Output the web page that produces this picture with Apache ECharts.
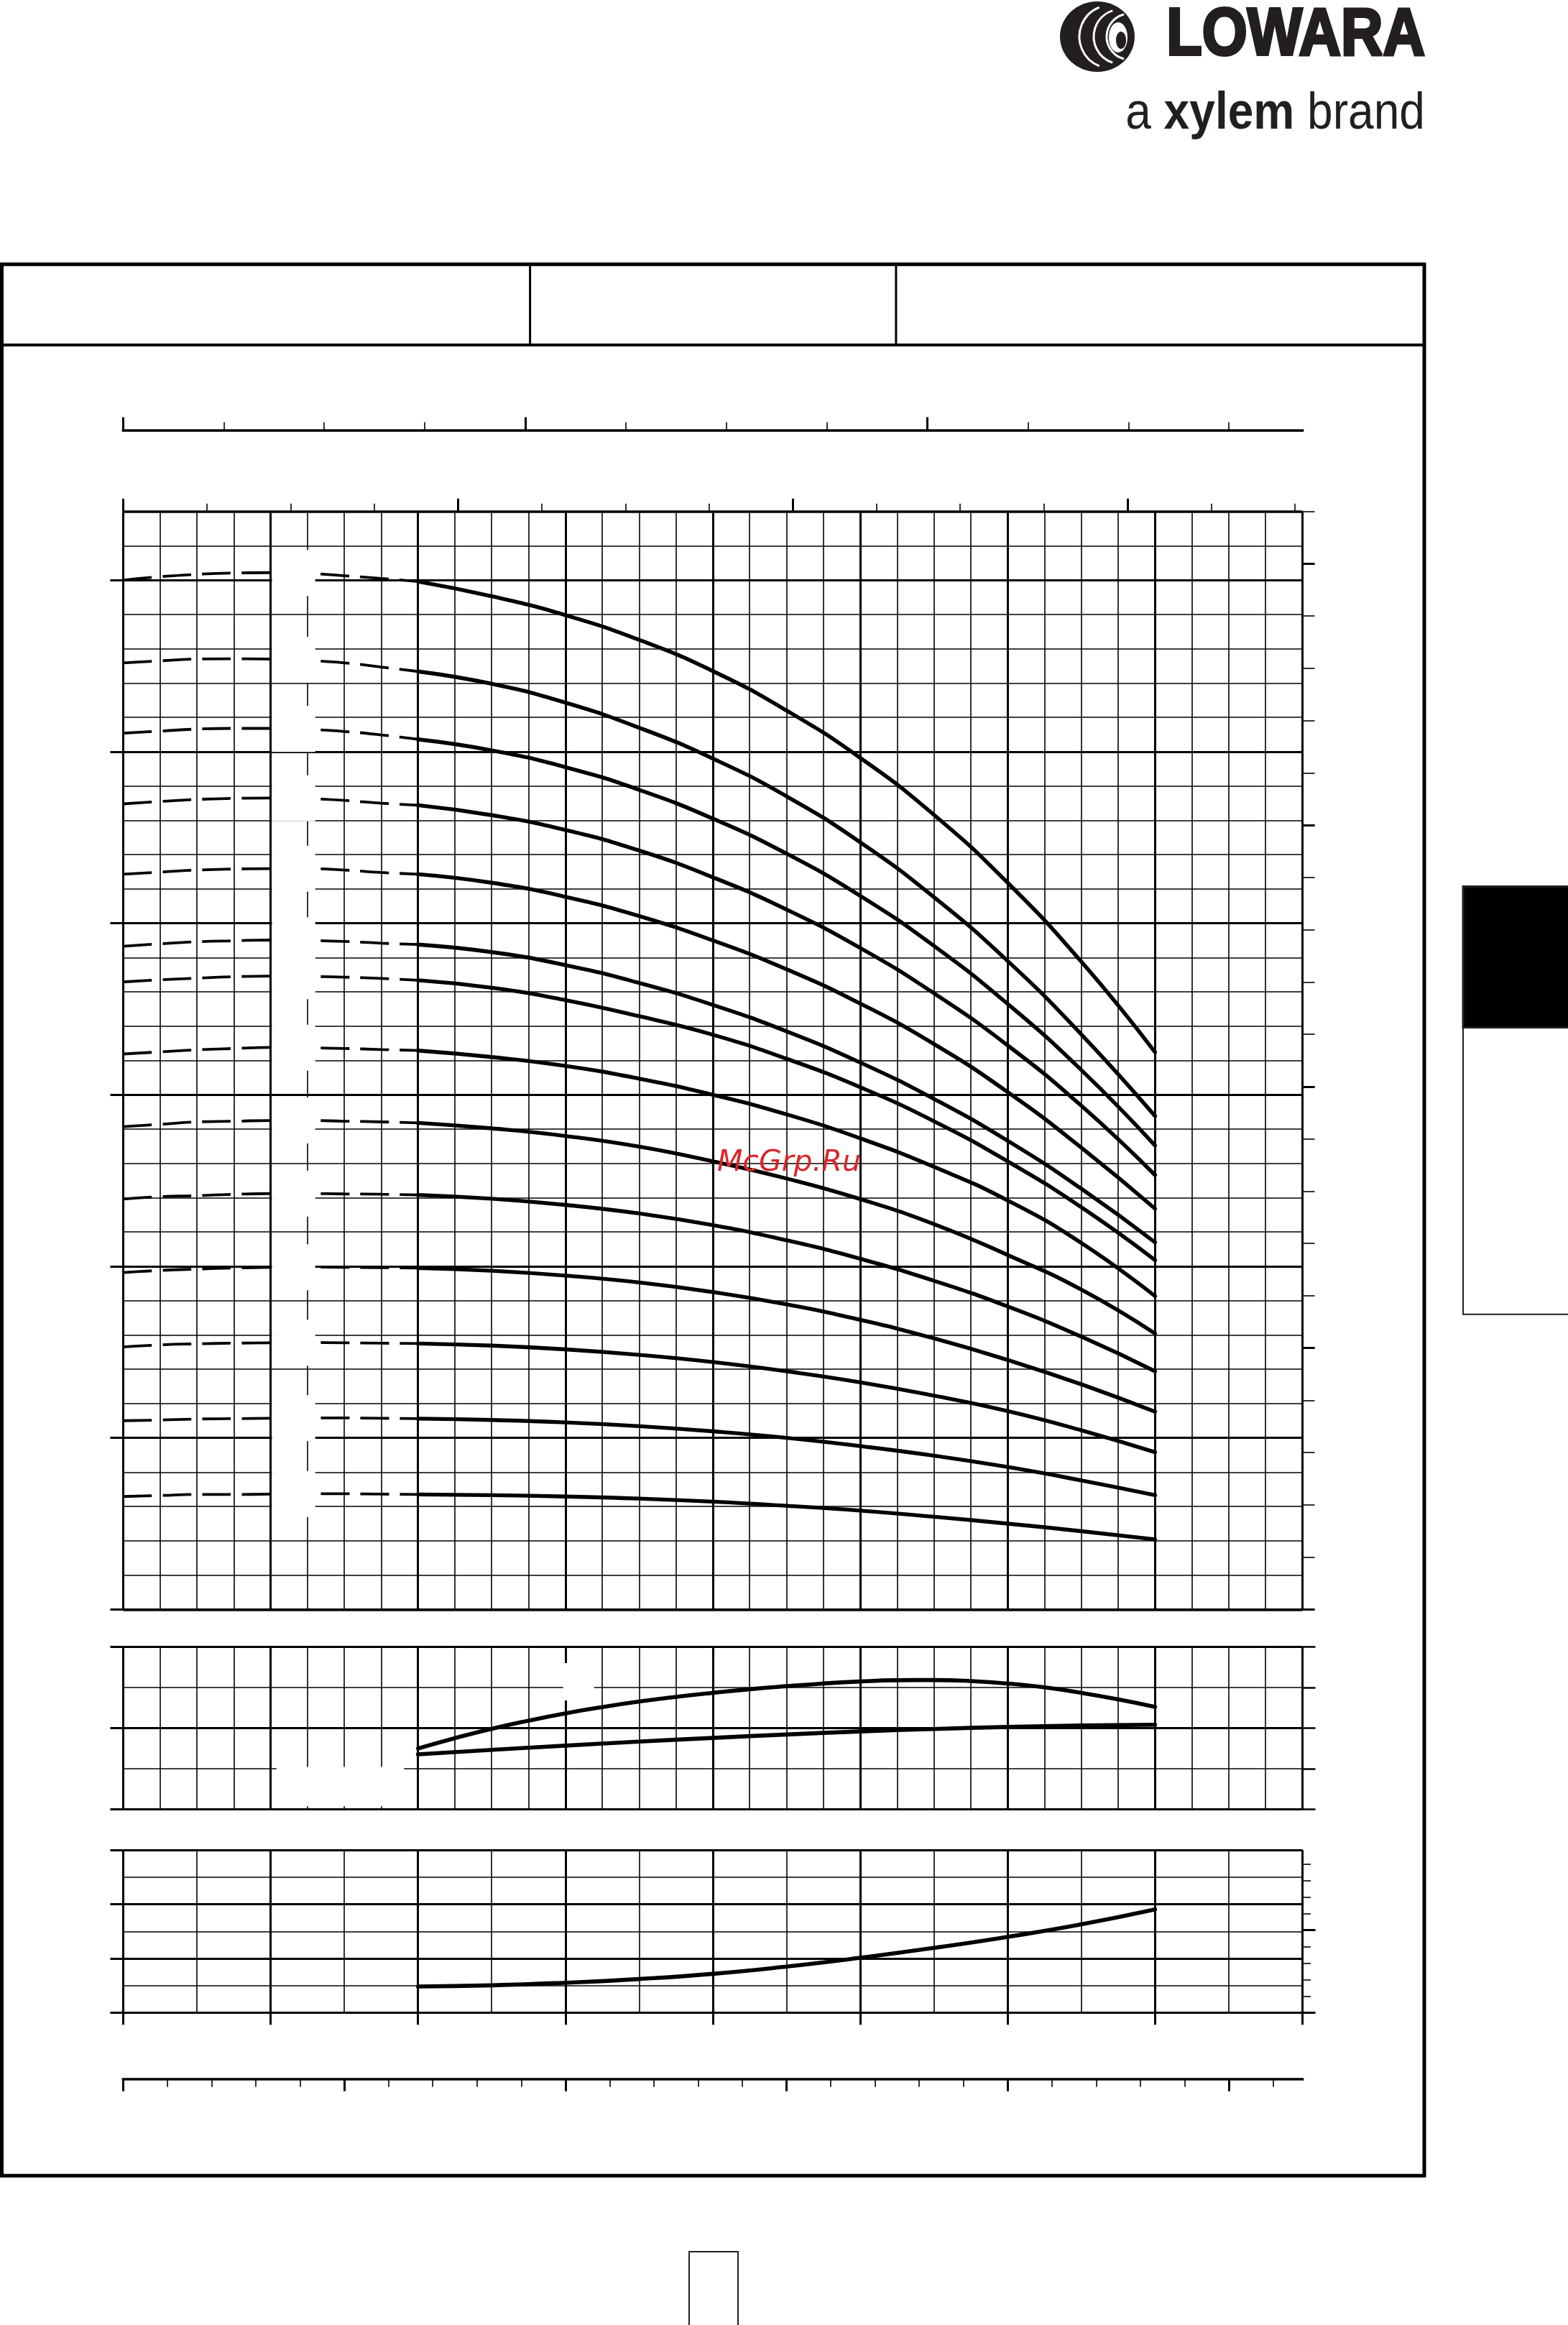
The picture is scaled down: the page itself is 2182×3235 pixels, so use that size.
<!DOCTYPE html>
<html>
<head>
<meta charset="utf-8">
<title>Pump performance curves</title>
<script src="https://cdn.jsdelivr.net/npm/echarts@6.0.0/dist/echarts.min.js"></script>
<style>
html,body{margin:0;padding:0;background:#fff;}
#chart{width:2182px;height:3235px;}
</style>
</head>
<body>
<div id="chart"></div>
<script>
// ================= DATA =================
// Flow in m3/h (main scale 0..80)
const dashedFlow = [0, 2.5, 5, 7.5, 10, 12.5, 15, 17.5, 20];
const solidFlow  = [20, 25, 30, 35, 40, 45, 50, 55, 60, 65, 70];

// Head (m) of each curve, dashed low-flow part
const headDashed = [
  [300.0, 301.0, 301.7, 302.1, 302.2, 302.0, 301.3, 300.5, 299.6],
  [275.9, 276.5, 277.0, 277.1, 277.0, 276.6, 275.9, 274.7, 273.4],
  [255.4, 256.0, 256.6, 256.8, 256.8, 256.5, 255.9, 254.9, 253.6],
  [234.8, 235.5, 236.1, 236.4, 236.5, 236.3, 235.8, 235.0, 234.4],
  [214.3, 214.9, 215.5, 215.8, 215.9, 215.9, 215.5, 214.8, 214.3],
  [193.3, 194.0, 194.6, 194.9, 195.1, 195.0, 194.7, 194.2, 193.8],
  [182.9, 183.5, 184.0, 184.4, 184.6, 184.5, 184.3, 183.9, 183.4],
  [161.9, 162.5, 163.1, 163.5, 163.8, 163.7, 163.5, 163.2, 162.9],
  [140.7, 141.4, 142.1, 142.3, 142.5, 142.5, 142.3, 142.1, 141.8],
  [119.6, 120.3, 120.6, 121.0, 121.2, 121.2, 121.1, 121.0, 120.8],
  [98.2, 98.8, 99.2, 99.5, 99.7, 99.8, 99.7, 99.6, 99.5],
  [76.5, 77.1, 77.4, 77.6, 77.7, 77.8, 77.7, 77.6, 77.5],
  [55.0, 55.2, 55.5, 55.6, 55.7, 55.8, 55.8, 55.7, 55.6],
  [32.9, 33.2, 33.5, 33.5, 33.6, 33.7, 33.7, 33.6, 33.5]
];
// Head (m) of each curve, solid operating part
const headSolid = [
  [299.6, 295.3, 289.8, 282.6, 273.5, 262.0, 248.2, 231.6, 211.8, 188.8, 162.4],
  [273.4, 269.8, 264.3, 257.0, 248.0, 237.0, 223.6, 207.6, 189.0, 167.6, 143.8],
  [253.6, 250.4, 245.5, 238.9, 230.5, 220.3, 208.0, 193.4, 176.5, 157.2, 135.2],
  [234.4, 231.5, 227.2, 221.2, 213.4, 204.0, 192.8, 179.6, 164.4, 146.8, 126.6],
  [214.3, 211.8, 207.7, 202.1, 195.0, 186.6, 176.6, 164.8, 150.8, 134.6, 116.8],
  [193.8, 191.6, 187.8, 182.6, 176.2, 168.5, 159.4, 148.8, 136.6, 122.6, 107.0],
  [183.4, 181.2, 177.6, 172.9, 167.5, 160.5, 152.2, 142.3, 130.6, 117.2, 101.8],
  [162.9, 161.0, 158.4, 154.7, 150.0, 144.3, 137.3, 129.0, 119.2, 106.8, 91.3],
  [141.8, 140.2, 138.0, 134.9, 130.6, 125.6, 119.6, 112.3, 103.3, 93.2, 80.4],
  [120.8, 119.7, 117.9, 115.4, 112.0, 107.6, 102.2, 95.8, 88.3, 79.5, 69.4],
  [99.5, 98.7, 97.3, 95.3, 92.5, 88.9, 84.4, 79.0, 72.7, 65.6, 57.6],
  [77.5, 76.9, 75.8, 74.2, 72.1, 69.4, 66.2, 62.3, 57.8, 52.2, 45.8],
  [55.6, 55.2, 54.5, 53.4, 51.9, 50.0, 47.6, 44.8, 41.5, 37.6, 33.3],
  [33.5, 33.3, 32.9, 32.3, 31.4, 30.2, 28.8, 27.0, 25.0, 22.8, 20.4]
];

// Efficiency panel (0..80 scale)
const effFlow    = [20, 22.5, 25, 27.5, 30, 32.5, 35, 37.5, 40, 42.5, 45, 47.5, 50, 52.5, 55, 57.5, 60, 62.5, 65, 67.5, 70];
const efficiency = [29.9, 35.0, 39.6, 43.6, 47.2, 50.3, 53.0, 55.3, 57.3, 59.1, 60.6, 61.9, 62.9, 63.5, 63.6, 63.1, 61.9, 60.0, 57.3, 54.1, 50.4];
const powerFlow  = [20, 25, 30, 35, 40, 45, 50, 55, 60, 65, 70];
const power      = [27.0, 29.2, 31.3, 33.3, 35.1, 36.8, 38.3, 39.5, 40.5, 41.2, 41.6];

// NPSH panel (m, 0..15)
const npshFlow = [20, 25, 30, 35, 40, 45, 50, 55, 60, 65, 70];
const npsh     = [2.41, 2.52, 2.76, 3.10, 3.58, 4.25, 5.06, 5.97, 6.99, 8.15, 9.53];

// Scale ranges / secondary units
const Q_MAX = 80;              // m3/h
const H_MAX = 320;             // m
const FT_PER_M = 1 / 0.3048;
const USGPM_PER_M3H = 4.402868;
const IMPGPM_PER_M3H = 3.666154;
const LPM_PER_M3H = 16.666667;

// ================= LAYOUT =================
const LEFT = 171.4, W = 1641.1;
const MAIN_TOP = 711.8, MAIN_H = 1527.5;
const EFF_TOP = 2291.3, EFF_H = 226;
const NPSH_TOP = 2574.3, NPSH_H = 226;
const BLACK = '#000';
const THIN = 1.6, THICK = 3;

const grids = [], xAxes = [], yAxes = [];
function addGrid(top, height, width) {
  grids.push({left: LEFT, top: top, width: width == null ? W : width, height: height,
              containLabel: false, outerBoundsMode: 'none', show: false});
  return grids.length - 1;
}
function ax(gi, o) {
  return {
    gridIndex: gi, type: 'value', min: 0, max: o.max, interval: o.interval,
    position: o.position, offset: o.offset || 0, silent: true,
    axisLine: {show: !!o.line, onZero: false, lineStyle: {color: BLACK, width: o.line || 1, cap: 'square'}},
    axisTick: {show: !!o.tick, inside: false, length: o.tickLen || 5, lineStyle: {color: BLACK, width: o.tick || 1}},
    axisLabel: {show: false},
    splitLine: {show: !!o.split, lineStyle: {color: BLACK, width: o.split || 1}},
    minorTick: {show: false}, minorSplitLine: {show: false}, axisPointer: {show: false}
  };
}
function hid(gi, max) { return {gridIndex: gi, type: 'value', min: 0, max: max, show: false}; }

// --- main H chart ---
const pxPerM = MAIN_H / H_MAX;
const gMain = addGrid(MAIN_TOP, MAIN_H);
xAxes.push(ax(gMain, {max: Q_MAX, interval: 2.5, split: THIN}));
yAxes.push(ax(gMain, {max: H_MAX, interval: 10, split: THIN}));
const g1 = addGrid(MAIN_TOP, MAIN_H);
xAxes.push(ax(g1, {max: Q_MAX, interval: 10, split: THICK}));
yAxes.push(ax(g1, {max: H_MAX, interval: H_MAX, split: 3.5}));
const g2 = addGrid(MAIN_TOP + MAIN_H - 300 * pxPerM, 300 * pxPerM);
xAxes.push(hid(g2, Q_MAX));
yAxes.push(ax(g2, {max: 300, interval: 50, split: THICK, tick: THICK, tickLen: 18, position: 'left'}));
const ft1050 = 1050 / FT_PER_M * pxPerM;
const g3 = addGrid(MAIN_TOP + MAIN_H - ft1050, ft1050);
xAxes.push(hid(g3, Q_MAX));
yAxes.push(ax(g3, {max: 1050, interval: 50, tick: THIN, tickLen: 17, position: 'right'}));
const ft1000 = 1000 / FT_PER_M * pxPerM;
const g4 = addGrid(MAIN_TOP + MAIN_H - ft1000, ft1000);
xAxes.push(hid(g4, Q_MAX));
yAxes.push(ax(g4, {max: 1000, interval: 250, tick: THICK, tickLen: 17, position: 'right'}));
// top axis 2 (US gpm) at the chart top
const g5 = addGrid(MAIN_TOP, MAIN_H, 350 / (Q_MAX * USGPM_PER_M3H) * W);
xAxes.push(ax(g5, {max: 350, interval: 25, tick: THIN, tickLen: 11, position: 'top'}));
yAxes.push(hid(g5, 1));
const g6 = addGrid(MAIN_TOP, MAIN_H, 300 / (Q_MAX * USGPM_PER_M3H) * W);
xAxes.push(ax(g6, {max: 300, interval: 100, tick: THICK, tickLen: 18, position: 'top'}));
yAxes.push(hid(g6, 1));
// top axis 1 (Imp gpm)
const TOP1_OFF = 113.2;
const g7 = addGrid(MAIN_TOP, MAIN_H);
xAxes.push(ax(g7, {max: Q_MAX, interval: Q_MAX, line: 3.5, position: 'top', offset: TOP1_OFF}));
yAxes.push(hid(g7, 1));
const g8 = addGrid(MAIN_TOP, MAIN_H, 275 / (Q_MAX * IMPGPM_PER_M3H) * W);
xAxes.push(ax(g8, {max: 275, interval: 25, tick: THIN, tickLen: 11, position: 'top', offset: TOP1_OFF}));
yAxes.push(hid(g8, 1));
const g9 = addGrid(MAIN_TOP, MAIN_H, 200 / (Q_MAX * IMPGPM_PER_M3H) * W);
xAxes.push(ax(g9, {max: 200, interval: 100, tick: THICK, tickLen: 18, position: 'top', offset: TOP1_OFF}));
yAxes.push(hid(g9, 1));

// --- efficiency panel ---
const gEff = addGrid(EFF_TOP, EFF_H);
const effX = xAxes.length;
xAxes.push(ax(gEff, {max: Q_MAX, interval: 2.5, split: THIN}));
const effY = yAxes.length;
yAxes.push(ax(gEff, {max: 80, interval: 20, split: THIN}));
const g11 = addGrid(EFF_TOP, EFF_H);
xAxes.push(ax(g11, {max: Q_MAX, interval: 10, split: THICK}));
yAxes.push(ax(g11, {max: 80, interval: 40, split: THICK, tick: THICK, tickLen: 18, position: 'left'}));
const g12 = addGrid(EFF_TOP, EFF_H);
xAxes.push(hid(g12, Q_MAX));
yAxes.push(ax(g12, {max: 80, interval: 20, tick: 2.5, tickLen: 18, position: 'right'}));

// --- NPSH panel ---
const gN = addGrid(NPSH_TOP, NPSH_H);
const nX = xAxes.length;
xAxes.push(ax(gN, {max: Q_MAX, interval: 5, split: THIN}));
const nY = yAxes.length;
yAxes.push(ax(gN, {max: 15, interval: 2.5, split: THIN}));
const g14 = addGrid(NPSH_TOP, NPSH_H);
xAxes.push(ax(g14, {max: Q_MAX, interval: 10, split: THICK, tick: THICK, tickLen: 17, position: 'bottom'}));
yAxes.push(ax(g14, {max: 15, interval: 5, split: THICK, tick: THICK, tickLen: 18, position: 'left'}));
const nPx = NPSH_H / 15;
const g15 = addGrid(NPSH_TOP + NPSH_H - 45 / FT_PER_M * nPx, 45 / FT_PER_M * nPx);
xAxes.push(hid(g15, Q_MAX));
yAxes.push(ax(g15, {max: 45, interval: 5, tick: THIN, tickLen: 11.5, position: 'right'}));
const g16 = addGrid(NPSH_TOP + NPSH_H - 25 / FT_PER_M * nPx, 25 / FT_PER_M * nPx);
xAxes.push(hid(g16, Q_MAX));
yAxes.push(ax(g16, {max: 25, interval: 25, tick: THICK, tickLen: 18, position: 'right'}));

// --- bottom flow axis (l/min) ---
const BOT_OFF = 92.4;
const g17 = addGrid(NPSH_TOP, NPSH_H);
xAxes.push(ax(g17, {max: Q_MAX, interval: Q_MAX, line: 3.5, position: 'bottom', offset: BOT_OFF}));
yAxes.push(hid(g17, 1));
const g18 = addGrid(NPSH_TOP, NPSH_H, 1300 / (Q_MAX * LPM_PER_M3H) * W);
xAxes.push(ax(g18, {max: 1300, interval: 50, tick: THIN, tickLen: 11, position: 'bottom', offset: BOT_OFF}));
yAxes.push(hid(g18, 1));
const g19 = addGrid(NPSH_TOP, NPSH_H, 1250 / (Q_MAX * LPM_PER_M3H) * W);
xAxes.push(ax(g19, {max: 1250, interval: 250, tick: THICK, tickLen: 17, position: 'bottom', offset: BOT_OFF}));
yAxes.push(hid(g19, 1));

// ================= SERIES =================
const series = [];
headDashed.forEach(function (arr) {
  series.push({
    type: 'line', xAxisIndex: 0, yAxisIndex: 0, silent: true, symbol: 'none', smooth: 0.5, z: 3,
    data: dashedFlow.map(function (q, i) { return [q, arr[i]]; }),
    lineStyle: {color: BLACK, width: 3.8, type: [40, 15], cap: 'butt'}
  });
});
headSolid.forEach(function (arr) {
  series.push({
    type: 'line', xAxisIndex: 0, yAxisIndex: 0, silent: true, symbol: 'none', smooth: 0.5, z: 4,
    data: solidFlow.map(function (q, i) { return [q, arr[i]]; }),
    lineStyle: {color: BLACK, width: 5.4, cap: 'round', join: 'round'}
  });
});
series.push({
  type: 'line', xAxisIndex: effX, yAxisIndex: effY, silent: true, symbol: 'none', smooth: 0.5, z: 4,
  data: effFlow.map(function (q, i) { return [q, efficiency[i]]; }),
  lineStyle: {color: BLACK, width: 5.6, cap: 'round'}
});
series.push({
  type: 'line', xAxisIndex: effX, yAxisIndex: effY, silent: true, symbol: 'none', smooth: 0.5, z: 4,
  data: powerFlow.map(function (q, i) { return [q, power[i]]; }),
  lineStyle: {color: BLACK, width: 5.6, cap: 'round'}
});
series.push({
  type: 'line', xAxisIndex: nX, yAxisIndex: nY, silent: true, symbol: 'none', smooth: 0.5, z: 4,
  data: npshFlow.map(function (q, i) { return [q, npsh[i]]; }),
  lineStyle: {color: BLACK, width: 5.6, cap: 'round'}
});

// ================= STATIC GRAPHICS (page frame, logo) =================
const INK = '#231f20';
const graphics = [
  // outer frame
  {type: 'rect', z: 10, shape: {x: 2.5, y: 367.7, width: 1979.5, height: 2659.6}, style: {fill: null, stroke: BLACK, lineWidth: 5}},
  {type: 'line', z: 10, shape: {x1: 2.5, y1: 480, x2: 1982, y2: 480}, style: {stroke: BLACK, lineWidth: 4}},
  {type: 'line', z: 10, shape: {x1: 737.6, y1: 367.7, x2: 737.6, y2: 480}, style: {stroke: BLACK, lineWidth: 3}},
  {type: 'line', z: 10, shape: {x1: 1246.9, y1: 367.7, x2: 1246.9, y2: 480}, style: {stroke: BLACK, lineWidth: 3}},
  // side tab
  {type: 'rect', z: 10, shape: {x: 2036, y: 1233.6, width: 160, height: 196.4}, style: {fill: BLACK, stroke: INK, lineWidth: 3}},
  {type: 'rect', z: 10, shape: {x: 2036, y: 1430, width: 160, height: 398.7}, style: {fill: '#fff', stroke: INK, lineWidth: 2}},
  // page number box
  {type: 'rect', z: 10, shape: {x: 959, y: 3133, width: 68, height: 120}, style: {fill: null, stroke: INK, lineWidth: 2}},
  // logo icon (striped globe approximation)
  {type: 'ellipse', z: 10, shape: {cx: 1527, cy: 51, rx: 52, ry: 49}, style: {fill: INK}},
  {type: 'arc', z: 11, shape: {cx: 1546, cy: 51, r: 44, startAngle: Math.PI * 0.62, endAngle: Math.PI * 1.38, clockwise: true}, style: {stroke: '#fff', lineWidth: 3, fill: null}},
  {type: 'arc', z: 11, shape: {cx: 1560, cy: 51, r: 38, startAngle: Math.PI * 0.6, endAngle: Math.PI * 1.4, clockwise: true}, style: {stroke: '#fff', lineWidth: 3, fill: null}},
  {type: 'arc', z: 11, shape: {cx: 1572, cy: 51, r: 32, startAngle: Math.PI * 0.58, endAngle: Math.PI * 1.42, clockwise: true}, style: {stroke: '#fff', lineWidth: 3, fill: null}},
  {type: 'ellipse', z: 11, shape: {cx: 1556, cy: 52, rx: 13, ry: 21}, style: {fill: '#fff'}},
  {type: 'ellipse', z: 12, shape: {cx: 1560, cy: 56, rx: 7, ry: 12}, style: {fill: INK}},
  {type: 'text', z: 10, x: 1983, y: 51, scaleX: 0.88,
   style: {text: 'LOWARA', fill: INK, stroke: INK, lineWidth: 4, fontSize: 92, fontWeight: 'bold', fontFamily: 'Liberation Sans, Arial, sans-serif',
           align: 'right', verticalAlign: 'middle', textAlign: 'right', textVerticalAlign: 'middle'}},
  {type: 'text', z: 10, x: 1983, y: 159, scaleX: 0.89,
   style: {text: '{a|a }{b|xylem}{a| brand}', fill: INK, align: 'right', verticalAlign: 'middle', textAlign: 'right', textVerticalAlign: 'middle',
           rich: {a: {fontSize: 72, fontFamily: 'Liberation Sans, Arial, sans-serif', fill: INK},
                  b: {fontSize: 72, fontWeight: 'bold', fontFamily: 'Liberation Sans, Arial, sans-serif', fill: INK}}}},
  // watermark
  {type: 'text', z: 60, x: 998, y: 1618,
   style: {text: 'McGrp.Ru', fill: '#d9262b', fontSize: 41, fontStyle: 'italic', fontFamily: 'DejaVu Sans, sans-serif',
           align: 'left', verticalAlign: 'middle', textAlign: 'left', textVerticalAlign: 'middle'}}
];

const option = {
  animation: false,
  backgroundColor: '#fff',
  grid: grids,
  xAxis: xAxes,
  yAxis: yAxes,
  series: series,
  graphic: graphics
};

const chart = echarts.init(document.getElementById('chart'), null, {renderer: 'canvas', width: 2182, height: 3235});
chart.setOption(option);

// ================= label mask boxes (white patches left by the removed curve labels) =================
const boxes = [];
headDashed.forEach(function (arr) {
  const hMid = (arr[4] + arr[5]) / 2;
  const p0 = chart.convertToPixel({xAxisIndex: 0, yAxisIndex: 0}, [10, hMid]);
  const p1 = chart.convertToPixel({xAxisIndex: 0, yAxisIndex: 0}, [13.03, hMid]);
  boxes.push({type: 'rect', z: 50, shape: {x: p0[0] + 2, y: p0[1] - 32, width: p1[0] - p0[0] - 2, height: 64}, style: {fill: '#fff'}});
});
// efficiency panel patches
const e0 = chart.convertToPixel({xAxisIndex: effX, yAxisIndex: effY}, [10.4, 20.8]);
const e1 = chart.convertToPixel({xAxisIndex: effX, yAxisIndex: effY}, [19.05, 1.4]);
boxes.push({type: 'rect', z: 50, shape: {x: e0[0], y: e0[1], width: e1[0] - e0[0], height: e1[1] - e0[1]}, style: {fill: '#fff'}});
const e2 = chart.convertToPixel({xAxisIndex: effX, yAxisIndex: effY}, [29.85, 72.0]);
const e3 = chart.convertToPixel({xAxisIndex: effX, yAxisIndex: effY}, [31.95, 53.6]);
boxes.push({type: 'rect', z: 50, shape: {x: e2[0], y: e2[1], width: e3[0] - e2[0], height: e3[1] - e2[1]}, style: {fill: '#fff'}});

chart.setOption({graphic: graphics.concat(boxes)});
</script>
</body>
</html>
